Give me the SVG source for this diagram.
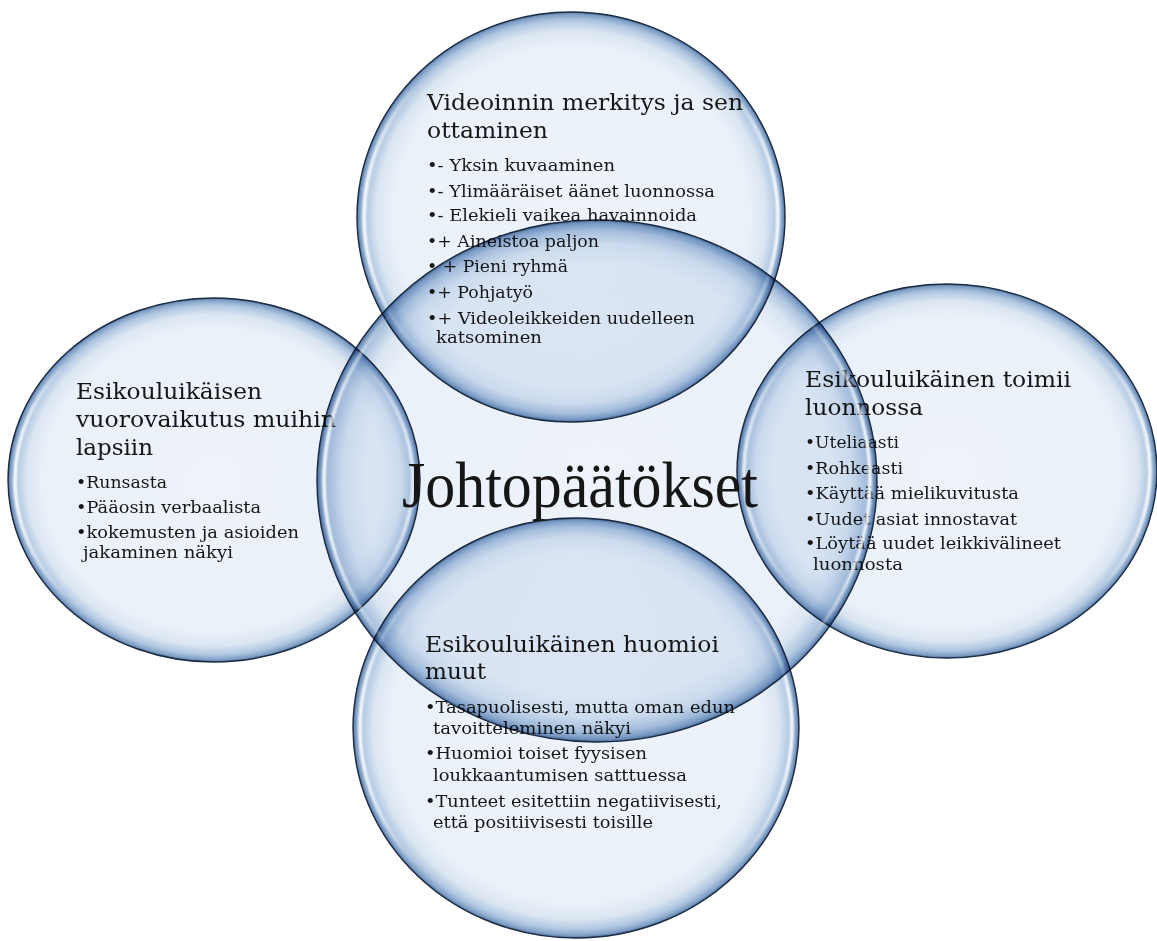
<svg xmlns="http://www.w3.org/2000/svg" width="1157" height="941" viewBox="0 0 1157 941">
<style>
  .fill { fill: url(#bub); stroke: #1c2b40; stroke-width: 1.4; mix-blend-mode: multiply; }
  .hl { fill: none; stroke: url(#hlg); stroke-width: 3.4; filter: url(#blur); }
  text { font-family: "DejaVu Serif", "Liberation Serif", serif; fill: #161616; }
  .t { font-size: 22px; }
  .b { font-size: 17px; }
  .c { font-family: "Liberation Serif", "Times New Roman", serif; font-size: 65px; }
</style>
<defs>
  <radialGradient id="bub" cx="0.5" cy="0.5" r="0.5">
    <stop offset="0" stop-color="#eef3fa"/>
    <stop offset="0.83" stop-color="#ebf1f9"/>
    <stop offset="0.91" stop-color="#dbe6f2"/>
    <stop offset="0.96" stop-color="#b0c7e1"/>
    <stop offset="0.988" stop-color="#7f9fc6"/>
    <stop offset="1" stop-color="#4a6f9c"/>
  </radialGradient>
  <linearGradient id="hlg" x1="0" y1="0" x2="1" y2="0">
    <stop offset="0" stop-color="#ffffff" stop-opacity="1"/>
    <stop offset="0.13" stop-color="#ffffff" stop-opacity="0"/>
    <stop offset="0.87" stop-color="#ffffff" stop-opacity="0"/>
    <stop offset="1" stop-color="#ffffff" stop-opacity="1"/>
  </linearGradient>
  <filter id="blur" x="-5%" y="-5%" width="110%" height="110%">
    <feGaussianBlur stdDeviation="1.1"/>
  </filter>
</defs>
<rect width="1157" height="941" fill="#ffffff"/>
<g id="connectors"/>

<g id="node-top">
  <ellipse class="fill" cx="571" cy="217" rx="214" ry="205"/>
  <ellipse class="hl" cx="571" cy="217" rx="207" ry="198"/>
  <text class="t" x="427" y="110" textLength="316" lengthAdjust="spacingAndGlyphs">Videoinnin merkitys ja sen</text>
  <text class="t" x="427" y="138" textLength="121" lengthAdjust="spacingAndGlyphs">ottaminen</text>
  <text class="b" x="427" y="171" textLength="188" lengthAdjust="spacingAndGlyphs">•- Yksin kuvaaminen</text>
  <text class="b" x="427" y="197" textLength="288" lengthAdjust="spacingAndGlyphs">•- Ylimääräiset äänet luonnossa</text>
  <text class="b" x="427" y="221" textLength="270" lengthAdjust="spacingAndGlyphs">•- Elekieli vaikea havainnoida</text>
  <text class="b" x="427" y="247" textLength="172" lengthAdjust="spacingAndGlyphs">•+ Aineistoa paljon</text>
  <text class="b" x="427" y="272" textLength="141" lengthAdjust="spacingAndGlyphs">• + Pieni ryhmä</text>
  <text class="b" x="427" y="298" textLength="106" lengthAdjust="spacingAndGlyphs">•+ Pohjatyö</text>
  <text class="b" x="427" y="324" textLength="268" lengthAdjust="spacingAndGlyphs">•+ Videoleikkeiden uudelleen</text>
  <text class="b" x="436" y="343" textLength="106" lengthAdjust="spacingAndGlyphs">katsominen</text>
</g>

<g id="node-left">
  <ellipse class="fill" cx="214" cy="480" rx="206" ry="182"/>
  <ellipse class="hl" cx="214" cy="480" rx="199" ry="175"/>
  <text class="t" x="76" y="399" textLength="186" lengthAdjust="spacingAndGlyphs">Esikouluikäisen</text>
  <text class="t" x="76" y="427" textLength="260" lengthAdjust="spacingAndGlyphs">vuorovaikutus muihin</text>
  <text class="t" x="76" y="455" textLength="77" lengthAdjust="spacingAndGlyphs">lapsiin</text>
  <text class="b" x="76" y="488" textLength="91" lengthAdjust="spacingAndGlyphs">•Runsasta</text>
  <text class="b" x="76" y="513" textLength="185" lengthAdjust="spacingAndGlyphs">•Pääosin verbaalista</text>
  <text class="b" x="76" y="538" textLength="223" lengthAdjust="spacingAndGlyphs">•kokemusten ja asioiden</text>
  <text class="b" x="83" y="558" textLength="150" lengthAdjust="spacingAndGlyphs">jakaminen näkyi</text>
</g>

<g id="node-right">
  <ellipse class="fill" cx="947" cy="471" rx="210" ry="187"/>
  <ellipse class="hl" cx="947" cy="471" rx="203" ry="180"/>
  <text class="t" x="805" y="387" textLength="266" lengthAdjust="spacingAndGlyphs">Esikouluikäinen toimii</text>
  <text class="t" x="805" y="415" textLength="118" lengthAdjust="spacingAndGlyphs">luonnossa</text>
  <text class="b" x="805" y="448" textLength="94" lengthAdjust="spacingAndGlyphs">•Uteliaasti</text>
  <text class="b" x="805" y="474" textLength="98" lengthAdjust="spacingAndGlyphs">•Rohkeasti</text>
  <text class="b" x="805" y="499" textLength="214" lengthAdjust="spacingAndGlyphs">•Käyttää mielikuvitusta</text>
  <text class="b" x="805" y="525" textLength="212" lengthAdjust="spacingAndGlyphs">•Uudet asiat innostavat</text>
  <text class="b" x="805" y="549" textLength="256" lengthAdjust="spacingAndGlyphs">•Löytää uudet leikkivälineet</text>
  <text class="b" x="813" y="570" textLength="90" lengthAdjust="spacingAndGlyphs">luonnosta</text>
</g>

<g id="node-bottom">
  <ellipse class="fill" cx="576" cy="728" rx="223" ry="210"/>
  <ellipse class="hl" cx="576" cy="728" rx="216" ry="203"/>
  <text class="t" x="425" y="652" textLength="294" lengthAdjust="spacingAndGlyphs">Esikouluikäinen huomioi</text>
  <text class="t" x="425" y="679" textLength="61" lengthAdjust="spacingAndGlyphs">muut</text>
  <text class="b" x="425" y="713" textLength="310" lengthAdjust="spacingAndGlyphs">•Tasapuolisesti, mutta oman edun</text>
  <text class="b" x="433" y="734" textLength="198" lengthAdjust="spacingAndGlyphs">tavoitteleminen näkyi</text>
  <text class="b" x="425" y="759" textLength="222" lengthAdjust="spacingAndGlyphs">•Huomioi toiset fyysisen</text>
  <text class="b" x="433" y="781" textLength="254" lengthAdjust="spacingAndGlyphs">loukkaantumisen satttuessa</text>
  <text class="b" x="425" y="807" textLength="297" lengthAdjust="spacingAndGlyphs">•Tunteet esitettiin negatiivisesti,</text>
  <text class="b" x="433" y="828" textLength="220" lengthAdjust="spacingAndGlyphs">että positiivisesti toisille</text>
</g>

<g id="node-center">
  <ellipse class="fill" cx="597" cy="481" rx="280" ry="261"/>
  <ellipse class="hl" cx="597" cy="481" rx="273" ry="254"/>
  <text class="c" x="402" y="507" textLength="356" lengthAdjust="spacingAndGlyphs">Johtopäätökset</text>
</g>
</svg>
